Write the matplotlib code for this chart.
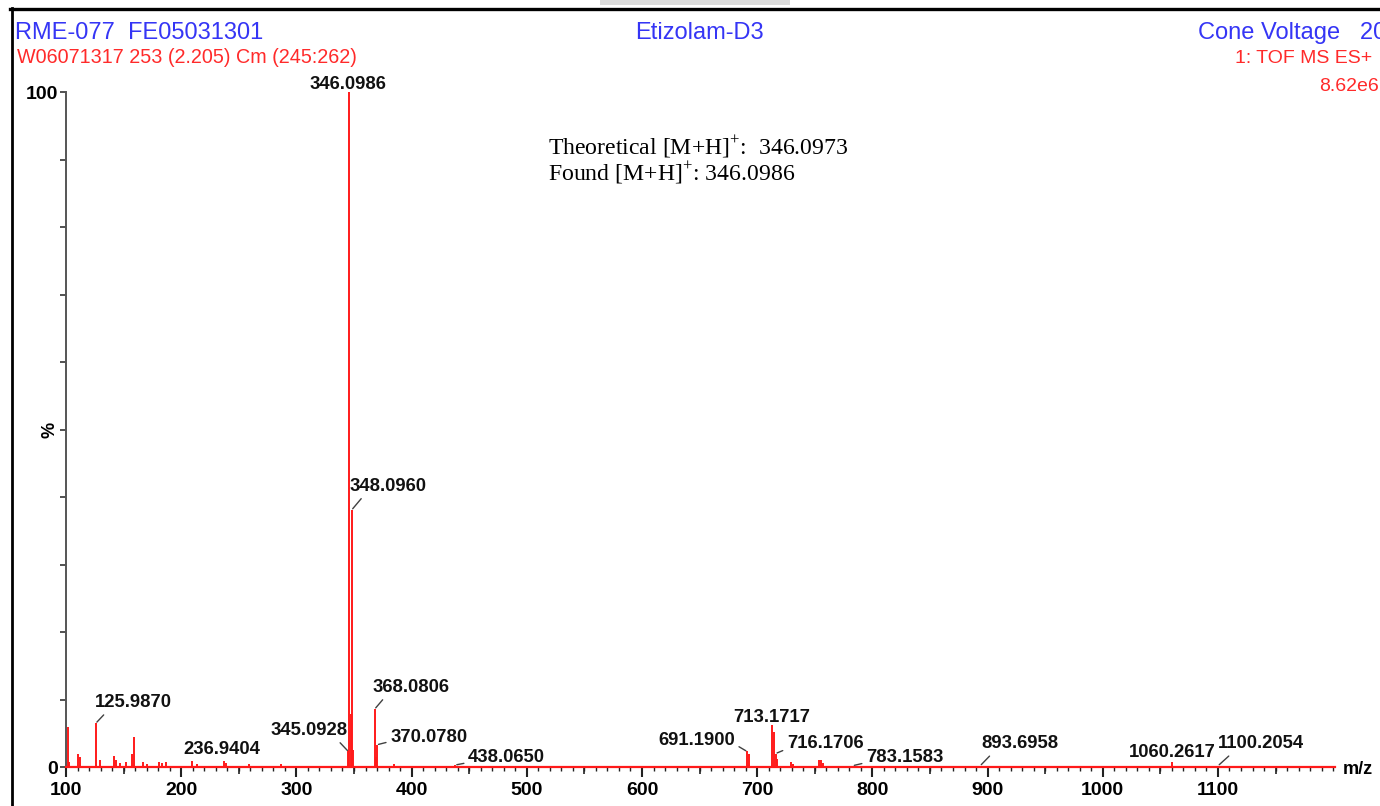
import matplotlib.pyplot as plt
from matplotlib.lines import Line2D
from matplotlib.patches import Rectangle

plt.rcParams['font.family'] = ['Liberation Sans', 'DejaVu Sans']
plt.rcParams['mathtext.fontset'] = 'custom'
plt.rcParams['mathtext.rm'] = 'Liberation Serif'

# --- spectrum data (m/z, relative intensity %) ---
mz = [101.5, 103.0, 110.2, 111.8, 125.987, 129.5, 141.8, 143.5, 146.9, 152.0,
      157.2, 159.3, 167.0, 170.5, 180.5, 183.5, 186.5, 209.5, 214.0, 236.9404,
      239.0, 258.5, 287.0, 345.0928, 346.0986, 347.1, 348.0960, 349.1, 368.0806,
      369.08, 370.0780, 385.0, 438.0650, 691.1900, 692.8, 713.1717, 714.8,
      716.1706, 717.5, 729.5, 731.0, 753.8, 755.5, 757.0, 783.1583, 893.6958,
      1060.2617, 1100.2054]
intensity = [5.9, 0.8, 1.9, 1.5, 6.5, 1.0, 1.6, 1.0, 0.6, 0.8,
             1.9, 4.4, 0.8, 0.5, 0.7, 0.6, 0.8, 0.9, 0.4, 0.9,
             0.6, 0.5, 0.4, 2.3, 100.0, 7.9, 38.1, 2.5, 8.6,
             1.5, 3.3, 0.5, 0.3, 2.3, 2.0, 6.2, 5.2,
             2.0, 1.2, 0.8, 0.4, 1.0, 1.0, 0.6, 0.2, 0.2,
             0.8, 0.2]

labelled = [346.0986, 348.0960, 125.987, 236.9404, 345.0928, 368.0806, 370.0780,
            438.0650, 691.1900, 713.1717, 716.1706, 783.1583, 893.6958,
            1060.2617, 1100.2054]

x_ticks = [100, 200, 300, 400, 500, 600, 700, 800, 900, 1000, 1100]

# label placement: offset in pixels from peak tip, alignment, leader start
label_layout = {
    346.0986: (-2, 3, 'center', None),
    348.0960: (-2, 19, 'left', (0.19, 0)),
    125.987: (-1, 16, 'left', (0.16, 0)),
    236.9404: (-2, 7, 'center', None),
    345.0928: (-1, 16.5, 'right', (0.86, 0)),
    368.0806: (-2, 17, 'left', (0.17, 0)),
    370.0780: (13, 3, 'left', (0, 0.25)),
    438.0650: (12.6, 3.3, 'left', (0.02, 0.2)),
    691.1900: (-12, 6, 'right', (1, 0.3)),
    713.1717: (-1, 3.3, 'center', None),
    716.1706: (11, 5, 'left', (0.02, 0.25)),
    783.1583: (13, 4, 'left', (0.02, 0.2)),
    893.6958: (1.3, 17.3, 'left', (0.15, 0)),
    1060.2617: (0, 5, 'center', None),
    1100.2054: (0, 17.3, 'left', (0.17, 0)),
}

W, H = 1380, 806
fig = plt.figure(figsize=(W / 100, H / 100), dpi=100)


def px(x, y):
    return x / W, 1 - y / H


ax = fig.add_axes([66 / W, 1 - 767 / H, (1335 - 66) / W, (767 - 92) / H])
ax.set_xlim(100, 1201.6)
ax.set_ylim(0, 100)
ax.patch.set_alpha(0)

# spectrum sticks and baseline
ax.axhline(0, color='#ff1a1a', lw=1.6, zorder=3, clip_on=False)
ax.vlines(mz, 0, intensity, color='#ff1a1a', lw=1.4, zorder=3)

for spine in ['top', 'right', 'bottom']:
    ax.spines[spine].set_visible(False)
ax.spines['left'].set_color('#555555')
ax.spines['left'].set_linewidth(1.4)

# x ticks
ax.set_xticks(x_ticks)
ax.set_xticks(range(100, 1201, 10), minor=True)
ax.tick_params(axis='x', which='major', direction='out', length=7.5, width=1.5,
               pad=3, labelsize=14, color='#222222')
ax.tick_params(axis='x', which='minor', direction='out', length=3, width=1.0,
               color='#222222')
for lab in ax.get_xticklabels():
    lab.set_fontweight('bold')

sec = ax.secondary_xaxis('bottom')
sec.set_xticks(range(150, 1200, 100))
sec.set_xticklabels([])
sec.tick_params(length=5, width=1.2, color='#222222')
sec.spines['bottom'].set_visible(False)

# y ticks
ax.set_yticks(range(0, 101, 10))
ax.set_yticklabels(['0' if v == 0 else '100' if v == 100 else '' for v in range(0, 101, 10)])
ax.tick_params(axis='y', direction='out', length=4.5, width=1.2, pad=1,
               labelsize=14, color='#333333')
for lab in ax.get_yticklabels():
    lab.set_fontweight('bold')

fig.text(*px(50, 430), '%', rotation=90, ha='center', va='center',
         fontsize=13, fontweight='bold')
fig.text(*px(1343, 769), 'm/z', ha='left', va='center', fontsize=13,
         fontweight='bold')

# peak labels
for m in labelled:
    i = intensity[mz.index(m)]
    dx, dy, ha, rel = label_layout[m]
    props = None
    if rel is not None:
        props = dict(arrowstyle='-', color='#404040', lw=1.0, relpos=rel,
                     shrinkA=1, shrinkB=1)
    ax.annotate('%.4f' % m, xy=(m, i), xytext=(dx, dy),
                textcoords='offset pixels', ha=ha, va='baseline',
                fontsize=13.3, fontweight='bold', color='#111111',
                arrowprops=props, annotation_clip=False, zorder=4)

# header texts
blue = '#3535f5'
red = '#ff2a2a'
fig.text(*px(15, 39), 'RME-077  FE05031301', color=blue, fontsize=17,
         ha='left', va='baseline')
fig.text(*px(699, 39), 'Etizolam-D3', color=blue, fontsize=17,
         ha='center', va='baseline')
fig.text(*px(1198, 39), 'Cone Voltage   20', color=blue, fontsize=17,
         ha='left', va='baseline')
fig.text(*px(17, 63), 'W06071317 253 (2.205) Cm (245:262)', color=red,
         fontsize=14.2, ha='left', va='baseline')
fig.text(*px(1372, 63), '1: TOF MS ES+', color=red, fontsize=14,
         ha='right', va='baseline')
fig.text(*px(1379, 91), '8.62e6', color=red, fontsize=14,
         ha='right', va='baseline')

# mass note
fig.text(*px(548, 155), r'Theoretical [M+H]$^{+}$:  346.0973',
         family='Liberation Serif', fontsize=17.1, ha='left', va='baseline')
fig.text(*px(548, 181), r'Found [M+H]$^{+}$: 346.0986',
         family='Liberation Serif', fontsize=17.1, ha='left', va='baseline')

# frame
fig.add_artist(Line2D([10 / W, 1], [1 - 9 / H] * 2, color='black', lw=2.4))
fig.add_artist(Line2D([11.5 / W] * 2, [0, 1 - 8 / H], color='black', lw=2.0))
fig.add_artist(Rectangle((600 / W, 1 - 5 / H), 190 / W, 5 / H,
                         color='#dcdcdc', lw=0))

fig.savefig('out.png', dpi=100)
